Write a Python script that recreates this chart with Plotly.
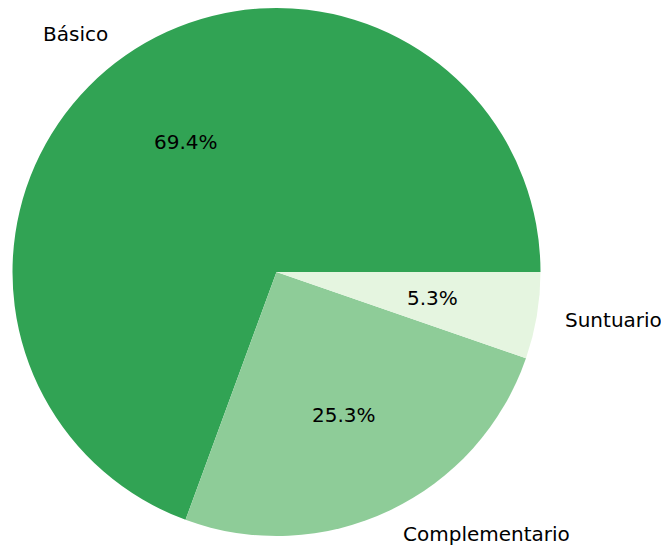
import math
import plotly.graph_objects as go

labels = ["Básico", "Complementario", "Suntuario"]
values = [69.4, 25.3, 5.3]
colors = ["#31a354", "#8ecc98", "#e5f5e0"]

W, H = 661, 548
cx, cy, R = 276.5, 272.0, 264.0  # pixel center/radius of pie

total = sum(values)
# Plotly (counterclockwise) ends the first slice at `rotation`; shift so the
# first slice starts at 3 o'clock like matplotlib's startangle=0.
rotation = 90 - values[0] / total * 360.0

fig = go.Figure(go.Pie(
    labels=labels, values=values, sort=False,
    direction="counterclockwise", rotation=rotation,
    marker=dict(colors=colors, line=dict(width=0)),
    textinfo="none", showlegend=False, hoverinfo="label+percent",
    domain=dict(x=[(cx - R) / W, (cx + R) / W], y=[(H - cy - R) / H, (H - cy + R) / H]),
))

annotations = []
start = 0.0
font = dict(family="DejaVu Sans", size=20, color="#000000")
for lab, v in zip(labels, values):
    span = v / total * 360.0
    mid = math.radians(start + span / 2)
    start += span
    ux, uy = math.cos(mid), math.sin(mid)
    # percent label at 0.6 radius
    annotations.append(dict(
        x=(cx + 0.6 * R * ux) / W, y=(H - cy + 0.6 * R * uy) / H,
        xref="paper", yref="paper", text=f"{v / total * 100:.1f}%",
        showarrow=False, xanchor="center", yanchor="middle", font=font))
    # category label at 1.1 radius
    annotations.append(dict(
        x=(cx + 1.1 * R * ux) / W, y=(H - cy + 1.1 * R * uy) / H,
        xref="paper", yref="paper", text=lab,
        showarrow=False, xanchor="left" if ux > 0 else "right",
        yanchor="middle", font=font))

fig.update_layout(
    width=W, height=H,
    margin=dict(l=0, r=0, t=0, b=0),
    paper_bgcolor="white", plot_bgcolor="white",
    annotations=annotations,
)

fig.write_html(
    "out.html",
    config={"displayModeBar": False},
    post_script="document.body.style.margin='0';document.body.style.overflow='hidden';",
)
